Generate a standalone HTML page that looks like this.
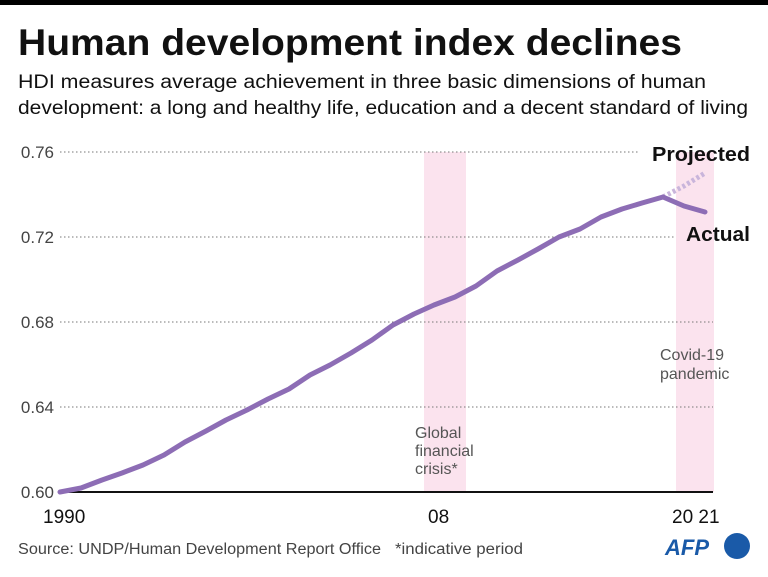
<!DOCTYPE html><html><head><style>body{margin:0;background:#fff;font-family:"Liberation Sans",sans-serif}</style></head><body>
<svg width="768" height="572" xmlns="http://www.w3.org/2000/svg" font-family="Liberation Sans, sans-serif">
<rect x="0" y="0" width="768" height="5" fill="#000"/>
<text x="18" y="55" font-size="37" font-weight="bold" fill="#111" textLength="664" lengthAdjust="spacingAndGlyphs">Human development index declines</text>
<text x="18" y="88" font-size="19" fill="#111" textLength="688" lengthAdjust="spacingAndGlyphs">HDI measures average achievement in three basic dimensions of human</text>
<text x="18" y="114" font-size="19" fill="#111" textLength="730" lengthAdjust="spacingAndGlyphs">development: a long and healthy life, education and a decent standard of living</text>
<rect x="424" y="152" width="42" height="340" fill="#fbe3ee"/>
<rect x="676" y="152" width="38" height="340" fill="#fbe3ee"/>
<g stroke="#777" stroke-dasharray="1.5,2.5" stroke-width="1">
<line x1="60" y1="152" x2="640" y2="152"/><line x1="60" y1="237" x2="676" y2="237"/>
<line x1="60" y1="322" x2="713" y2="322"/><line x1="60" y1="407" x2="713" y2="407"/></g>
<line x1="58" y1="492" x2="713" y2="492" stroke="#111" stroke-width="2"/>
<g font-size="17" fill="#444" text-anchor="end">
<text x="54" y="158">0.76</text><text x="54" y="243">0.72</text><text x="54" y="328">0.68</text><text x="54" y="413">0.64</text><text x="54" y="498">0.60</text></g>
<polyline points="663,197 684,186 705,173" fill="none" stroke="#c9b5db" stroke-width="5" stroke-dasharray="3,2.5"/>
<polyline fill="none" stroke="#8d6db5" stroke-width="5" stroke-linejoin="round" stroke-linecap="round" points="60,492 81,488 102,480 122,473 143,465 164,455 185,442 206,431 226,420 247,410 268,399 289,389 310,375 330,365 351,353 372,340 393,325 414,314 434,305 455,297 476,286 497,271 518,260 538,249 559,237 580,229 601,217 622,209 642,203 663,197 684,206 705,212"/>
<text x="652" y="161" font-size="20" font-weight="bold" fill="#111" textLength="98" lengthAdjust="spacingAndGlyphs">Projected</text>
<text x="686" y="241" font-size="20" font-weight="bold" fill="#111" textLength="64" lengthAdjust="spacingAndGlyphs">Actual</text>
<g font-size="16" fill="#555"><text x="660" y="360">Covid-19</text><text x="660" y="379">pandemic</text>
<text x="415" y="438">Global</text><text x="415" y="456">financial</text><text x="415" y="474">crisis*</text></g>
<g font-size="19" fill="#111"><text x="43" y="523">1990</text><text x="428" y="523">08</text><text x="672" y="523">20 21</text></g>
<text x="18" y="554" font-size="15.5" fill="#444" textLength="363" lengthAdjust="spacingAndGlyphs">Source: UNDP/Human Development Report Office</text>
<text x="395" y="554" font-size="15.5" fill="#444" textLength="128" lengthAdjust="spacingAndGlyphs">*indicative period</text>
<text x="665" y="555" font-size="22" font-weight="bold" font-style="italic" fill="#1a5aa8">AFP</text>
<circle cx="737" cy="546" r="13" fill="#1a5aa8"/>
</svg></body></html>
